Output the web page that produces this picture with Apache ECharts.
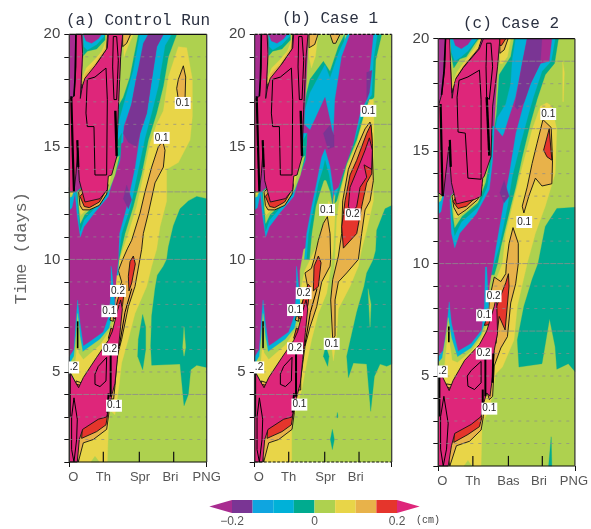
<!DOCTYPE html>
<html><head><meta charset="utf-8">
<style>html,body{margin:0;padding:0;background:#fff}#c{width:591px;height:529px}</style>
<script src="https://cdn.jsdelivr.net/npm/echarts@6/dist/echarts.min.js"></script>
</head><body><div id="c"></div>
<script>
// Colour levels, -0.2 .. 0.2 cm
const levelColors=['#A82C90','#7A3594','#0FA5E0','#00B1D8','#00AB8F','#AED14F','#E8D548','#E8B24A','#E5352C','#DE267A'];
const colorEdges=[-0.255,-0.2,-0.15,-0.1,-0.05,0,0.05,0.1,0.15,0.2,0.255];
const dayTicks=[20,15,10,5];
const bandRows=[19,18,17,16,15,14,13,12,11,10,9,8,7,6,5,4,3,2];
const strongRowsA=[13,10,4], strongRowsB=[16,13,10,4], strongRowsC=[19,16,10,7];
const tickPos=[102,210,313];
const tickPosC=[105,213,316];
const namesA=['O','Th','Spr','Bri','PNG'], namesB=namesA, namesC=['O','Th','Bas','Bri','PNG'];
const labelPosA=[12,102,212,303,412], labelPosC=[12,105,213,306,412];

// Each layer: [level, [distance, day, distance, day, ...]]
const fieldA=[
[4,[412,12.7,382,12.8,357,12.6,332,12.25,312,11.5,297,10.55,292,10,282,9.7,264,9.3,257,8.7,247,7.5,244,6.15,247,5.3,332,5.35,344,3.5,357,4,364,5.1,382,5.3,412,5.2]],
[4,[220,7.55,229,7,229,6,220,5.1,205,5.7,207,6.45]],
[5,[344,7,349,6.1,344,5.7,340,6.1]],
[6,[24,1,114,1,117,2.4,122,3.3,137,3.1,150,4.5,157,5.4,177,6.45,197,7.6,232,8.8,247,9.7,262,10.45,272,11.45,292,12.6,292,14,327,14.3,362,15.3,369,16.35,369,18,352,19.4,327,19.45,297,18.1,282,16.6,262,16,242,15.15,222,13.7,202,12.35,177,11.15,152,10.05,144,9.85,100,6,40,3]],
[5,[65,1,77,1.25,90,1]],
[7,[280,15.25,287,14.85,282,14.1,257,13.4,237,12.05,222,11.15,217,10.45,197,8.8,177,7.9,157,6.45,144,5.7,137,4.4,133,3.8,120,3.8,120,5.5,130,8,157,9,147,9.5,160,10,175,10.5,187,10.85,212,12.05,227,13,247,14.1,267,15]],
[8,[192,10.15,198,9.8,187,8.95,179,8.6,177,9.25,182,9.9]],
[7,[342,18.6,349,18.1,347,17.1,327,17.1,322,17.6,327,18]],
[4,[207,20,322,20,297,19,282,17.7,262,16.5,237,15.3,217,13.8,192,12.35,167,11.15,149,10,145,9.6,125,9.6,135,15,147,16.8,162,17.2,182,18.1]],
[3,[212,20,307,20,287,19.5,267,17.7,247,16.5,227,15.4,207,14,184,12.35,157,11.15,147,10,147,9.3,130,9.3,135,15,152,16.3,167,17.1,192,18.4]],
[0,[0,20,160,20,154,19,147,16.65,142,15,162,15.2,164,15.9,187,16.9,202,18.1,237,20,282,20,262,19.45,242,17.5,232,16.5,212,15.6,197,14.1,172,12.35,150,11.15,147,10,140,9,135,7,100,5,30,4.5,0,4.8]],
[1,[237,20,282,20,262,19.45,242,17.5,232,16.5,212,15.6,202,15,177,15.2,162,15.6,167,15.9,187,16.9,202,18.1,222,19.6]],
[1,[172,13.3,187,12.65,177,12.25,162,12.7]]
];
const fieldAtopRight=[[6,[162,20,192,20,177,19.5,164,19]],[7,[160,20,184,20,172,19.6,160,19.45]]];

const fieldB=[
[4,[411,12.4,391,12.25,366,11.3,363,10.4,356,10,336,9.4,328,8.8,306,7.65,276,5.7,281,4.75,296,5.4,336,5.35,348,3.25,359,4.8,376,5.35,396,5.25,411,5.35]],
[5,[340,8.7,346,7,349,8]],
[4,[213,6.15,223,5.7,219,5.25,206,5.7]],
[4,[233,2.45,239,2,233,1.55,227,2]],
[4,[246,3,248,3.2,250,3,248,2.95]],
[4,[270,20,251,19.45,226,18.35,206,18.8,166,18,156,17.4,146,16.6,150,15,260,15]],
[3,[278,20,251,19.15,226,18.05,211,18.65,166,17.4,151,16.65,150,15,260,15,290,20]],
[4,[356,20,381,20,363,18.85,358,17.2,344,17,326,16.35,306,15.3,276,14.25,261,13.4,246,12.6,240,12.5,260,16]],
[3,[350,20,368,20,356,18.85,351,17.3,336,17,320,16.35,300,15.3,272,14.25,256,13.4,242,12.8,235,13,260,16]],
[0,[0,20,161,20,155,18,148,16,166,15.75,211,17.2,228,16.05,236,15.45,241,17.1,261,19,286,20,356,20,346,18.55,336,17.1,316,16.5,296,15.15,271,14.1,251,13.2,238,13.05,230,12,200,11,146,10.45,135,9.5,135,7,100,5,30,4.5,0,4.8]],
[1,[206,15.6,225,15.95,238,15.5,238,15,220,14.9]],
[1,[336,18.3,352,18.4,344,17.4,336,17.1]],
[3,[211,14.9,226,14.1,236,13.05,232,12.5,236,11,180,10,149,10,156,11.15,171,12.35,186,13.4,201,14.55]],
[4,[211,14.4,222,13.8,232,12.9,234,12.3,236,11,180,10,156,10,162,11.15,178,12.35,192,13.4,205,14]],
[5,[214,13.5,226,13,232,12.5,234,11,180,10,165,10,172,11.15,184,12.35,197,13,208,13.5]],
[6,[26,1,111,1,111,2.6,121,3.2,141,4.2,156,5.4,171,6.45,191,7.6,216,8.5,230,9.8,236,10.5,241,12,222,12.6,206,11.5,186,10.6,170,10.1,150,9.5,100,6,40,3]],
[6,[236,5.5,246,6.6,251,7.8,286,8.8,311,9.7,321,10.45,336,11.3,356,12.6,356,13.8,358,16,356,17.1,344,17.1,331,16.5,306,15.15,276,14.1,258,13,246,11.8,241,10,230,8,228,6.5]],
[7,[218,11.9,226,11.15,228,10,226,9.7,201,9,186,7.9,166,7,151,6.15,138,4.7,138,4.2,124,4.2,126,7.5,160,8.7,151,9.4,170,9.6,178,10,191,10.85,206,11.6]],
[8,[191,10.15,199,9.85,191,8.8,176,8.6,178,9.7]],
[7,[346,16.1,351,15.6,356,13.5,346,12.6,331,12.2,321,11.15,311,10,276,9.4,251,9,241,8.2,241,6.6,234,6.45,228,8.2,234,9.1,251,10.15,261,11.15,264,12.6,281,14,306,14.95,331,15.8]],
[8,[349,16,353,15.15,351,13.8,336,13.4,321,12.35,306,11.15,266,10.5,261,11.45,271,12.6,286,13.75,306,14.4,336,15.6]],
[9,[344,15.4,353,14.85,351,14,328,14.2,336,13.65,316,13.2,306,12.35,291,12.05,281,12.35,286,13.2,311,14.1,331,14.85]],
[6,[163,20,190,20,182,19,170,18.5,163,19]],
[7,[163,20,190,20,180,19.55,163,19.4]],
[7,[226,20,256,20,243,19.6,235,19.6]]
];

// Left-hand structure shared by panels (a) and (b)
const leftAB=[
[3,[0,5.67,14,6,18,6.9,25,8.2,32,7.2,42,6.15,57,6.3,102,6.77,119,7.5,125,8.5,125,9.7,127,9.55,134,8.5,137,7.9,132,6.75,92,5.7,32,4.5,0,4.8]],
[5,[0,5.33,14,5.7,20,6.6,25,7.6,32,6.6,40,5.9,92,6.45,120,6.95,127,7.4,137,7.4,132,6.6,92,5.55,32,4.45,0,4.95]],
[6,[17,5.25,24,6.3,28,5.85,42,5.55,92,6.2,124,6.9,137,7.35,137,6.6,92,5.5,32,4.3,20,4.5,7,4.95]],
[7,[20,4.6,40,4.5,32,4.2,20,4.25]],
[8,[22,4.45,36,4.4,30,4.25,22,4.3]],
[7,[20,1.5,27,1,42,1.85,72,2,112,2.45,119,3.2,119,4,60,3.5,30,2.2]],
[8,[37,2.05,82,2.35,110,2.65,116,3.2,90,3.4,40,2.8]],
[7,[122,7.3,132,7.25,132,7.45,125,7.5]],
[8,[132,7.4,145,7.3,160,8,166,8.8,160,8.9,145,8.2]],
[8,[117,6.5,127,6.45,131,6.9,125,6.95]],
[9,[0,5.05,20,4.5,28,4.3,42,4.75,82,5.65,117,6.4,129,6.8,144,7.7,154,8.2,159,7.8,152,6.75,144,5.55,137,4.5,129,4.05,120,3.5,112,3,87,2.9,40,2.45,30,2,24,1,0,1]],
[3,[17,12.95,24,11.9,33,11,44,11.45,77,12.1,117,12.8,132,13.6,152,14.4,157,15.6,142,15.6,100,14]],
[4,[22,13,28,12,33,11.25,44,11.75,77,12.3,117,13,135,13.7,152,14.5,157,15.6,100,14]],
[5,[25,13,30,12.1,33,11.6,46,12,80,12.45,120,13.1,137,13.75,150,14.6,100,14]],
[6,[27,13,31,12.3,33,11.95,50,12.2,85,12.5,117,13.2,125,13.7,100,14]],
[7,[28,13,32,12.4,40,12.2,60,12.2,90,12.4,112,12.9,116,13.3,100,14]],
[8,[32,12.8,45,12.35,60,12.3,90,12.55,108,13,100,14]],
[3,[0,13.2,0,12.2,8,12.3,18,13]],
[5,[0,13.2,0,12.75,8,12.8,16,13.2]],
[6,[2,13.2,5,12.85,14,13]],
[9,[20,20,37,20,40,19.15,33,17.15,42,17.95,54,18.35,82,18.7,114,19.4,117,20,160,20,154,19,147,16.65,142,14.55,127,13.75,117,13.7,114,13.1,92,12.7,47,12.55,30,13.5,25,14.85,20,13.8,14,13,0,13,0,17.1,14,17.25,20,18.55]],
[7,[42,20,44,19.3,37,17.6,47,18.05,77,18.6,112,19.35,114,20]],
[6,[42,20,44,19.4,38,17.8,47,18.25,77,18.7,107,19.4,112,20]],
[5,[42,20,44,19.5,40,18.1,50,18.5,77,18.9,97,19.25,110,19.75,110,20]],
[4,[42,20,42,19.05,54,19.25,82,19.35,107,19.75,107,20]],
[3,[42,20,44,19.45,54,19.3,82,19.55,104,19.9,104,20]],
[0,[42,20,50,19.7,67,19.6,87,19.8,97,20]]
];

const fieldC=[
[4,[415,12.5,360,12.45,325,11.65,303,10,285,9.3,260,8.1,240,6.6,245,5.4,315,5.55,338,7.55,355,6.3,360,5.3,395,5.55,415,5.2]],
[4,[343,2.3,345,1,335,1]],
[6,[378,19,383,18.5,380,17.2,378,17.2]],
[6,[25,1,130,1,133,2.9,155,3.5,170,4.7,175,5.1,195,5.4,230,6.6,240,8.1,270,10,295,11.35,325,12.55,355,14,360,15.95,345,17,330,17.15,310,17,285,15.95,255,14.3,230,12.85,205,11.35,195,10,170,9.1,150,5,45,3]],
[5,[78,1,90,1.25,102,1]],
[7,[318,16.4,343,16.05,347,14.6,345,13.55,315,13.45,295,13.8,275,13,260,12.25,255,12.55,270,13.4,285,14.45,300,15.35]],
[8,[337,16,345,14.6,330,14.75,320,15.05]],
[7,[227,11.6,243,10.9,243,10,235,9.1,220,8.25,210,6.75,190,6.25,170,5.45,165,4.1,155,3.95,140,4.7,155,8.4,170,9.4,190,9.2,205,9.55,207,10,215,10.9]],
[8,[213,9.55,215,9,203,7.05,185,7.65,175,6.45,165,7.65,185,8.4,205,9.15]],
[4,[230,20,365,20,353,18.9,325,18.4,300,17.3,280,16.25,255,14.75,235,13.4,220,12.55,190,10.75,180,10,170,9.5,150,9.5,160,15,177,16.7,185,18.4,220,19.2]],
[3,[235,20,355,20,343,19,315,18.55,290,17.45,275,16.7,250,15.35,225,13.9,210,12.55,185,10.75,170,10,160,9.5,150,9.5,160,15,180,16.5,205,17.1,220,18,225,19.1]],
[0,[0,20,187,20,180,18.75,170,16.1,195,15.65,200,15.8,215,16.5,235,17.4,255,18.9,270,20,345,20,337,19,310,18.9,280,18,260,17.15,235,15.8,215,14,200,12.85,175,10.75,167,10,155,9,150,7,100,5,30,4.6,0,5]],
[1,[270,20,315,20,310,18.9,280,18,260,17.15,240,16.85,232,17,245,18,255,18.9]],
[1,[200,13.7,215,13,200,12.7,187,13.15]],
[3,[0,5.85,15,6.15,25,7.05,33,8.3,40,7.35,60,6.1,100,6.45,132,7.05,140,8.1,143,9.85,147,9.85,153,8.1,147,7,125,6.2,45,4.7,0,5]],
[5,[0,5.6,12,5.8,22,6.7,30,7.6,40,6.7,58,5.85,100,6.25,130,6.85,143,7.4,155,7.45,147,6.8,125,6.05,45,4.65,0,5.1]],
[6,[18,5.3,25,6.3,30,7.1,35,6.4,42,5.7,58,5.6,100,6.1,130,6.7,150,7.35,150,6.8,125,6,45,4.45,33,4.35,25,4.5,10,4.95]],
[7,[25,4.65,45,4.6,38,4.25,25,4.3]],
[8,[27,4.5,40,4.45,35,4.27,27,4.32]],
[7,[35,1,55,1.9,95,2.1,130,2.6,137,3.2,135,4,60,3.5,33,2.2,28,1.55]],
[8,[47,2.05,90,2.4,125,2.75,133,3.2,105,3.4,50,2.85]],
[8,[140,7.25,160,7.3,165,7.6,145,7.5]],
[9,[0,5.35,25,4.6,33,4.35,45,4.8,80,5.7,125,6.4,147,7,170,8.1,177,8.6,180,6.9,170,6.15,165,5,157,4.1,147,4.25,135,3.65,130,3.2,100,2.85,50,2.45,40,1.9,30,1,0,1]],
[3,[35,12.85,40,11.35,50,10.7,65,11.35,115,12.2,155,13.3,165,14.6,170,16.1,155,16.1,100,14]],
[4,[37,13,43,11.9,50,11.25,70,11.85,120,12.5,148,13.4,160,14.5,165,15.7,100,14]],
[5,[39,13,45,12.1,50,11.6,72,12.1,120,12.7,143,13.6,155,14.5,100,14]],
[6,[41,13,47,12.3,50,11.95,75,12.25,122,12.8,138,13.6,100,14]],
[7,[42,13,47,12.5,60,12.15,85,12.4,120,12.85,133,13.5,100,14]],
[8,[45,12.75,60,12.45,85,12.55,115,12.95,100,14]],
[3,[0,13.2,0,12.2,8,12.3,18,13.1]],
[5,[0,13.2,0,12.7,8,12.8,15,13.2]],
[6,[5,13.2,8,12.9,14,13.1]],
[9,[22,20,35,20,37,18.9,42,17.35,50,18.15,75,18.7,125,19.55,137,20,187,20,180,18.75,165,17,160,14.75,140,13.9,135,13.8,130,13,110,12.85,55,12.65,40,13.6,32,15.2,25,14.3,15,13,0,13.15,0,17,10,17.5,20,18.75]],
[7,[37,20,39,19,42,17.6,52,18.2,77,18.75,122,19.55,132,20]],
[6,[37,20,39,19.1,43,17.8,52,18.3,77,18.85,120,19.6,129,20]],
[5,[37,20,39,19.2,45,18.1,55,18.5,77,18.95,110,19.6,125,20]],
[4,[37,20,39,19.3,47,18.7,65,19.1,85,19.2,110,19.75,122,20]],
[3,[37,20,40,19.4,50,19,70,19.2,90,19.45,108,19.8,118,20]],
[0,[45,20,52,19.7,70,19.55,90,19.75,102,20]],
[6,[187,20,220,20,210,19.2,195,18.9,187,18.9]],
[7,[187,20,212,20,200,19.5,187,19.35]],
[8,[187,20,205,20,192,19.7,187,19.7]]
];

// Contours: [width, [distance, day, ...]]
const linesAB=[
[1,[50,16.5,54,18,77,18.1,110,18.5,114,17.1,112,13.75,77,13.75,74,15.9,54,15.9,50,16.5]],
[1,[132,19.9,142,19.9,147,18.85,142,17.1,134,17.1,130,18.55,132,19.9]],
[1,[14,3.85,24,2.9,22,2,14,1,7,1.55,7,3,14,3.85]],
[1,[77,4.9,87,5.25,112,5.65,110,4.6,92,4.35,77,4.45,77,4.9]],
[1,[150,6.15,167,7.65,187,8.7]],
[2.2,[1,5,1,3]],[2.2,[6,17.25,10,15,14,13]],[2.2,[24,15.3,27,14.1]],[2.4,[138,16.6,142,14.6]],
[1.6,[25,7.25,25,6.05]],[2,[124,5.85,124,3.9]],[2,[118,4.05,114,3.2]],[1.6,[20,20,17,18,14,17.25]]
];
const linesC=[
[1,[57,17.4,63,18.15,90,18.3,125,18.6,130,17.3,130,13.75,90,13.8,82,15.8,60,15.85,57,17.4]],
[1,[147,19.8,160,19.8,165,18.75,155,17.3,147,17.4,145,18.75,147,19.8]],
[1,[17,4.1,30,2.9,25,1.75,15,1,7,1.75,7,3.2,17,4.1]],
[1,[88,5,100,5.25,130,5.65,130,4.7,110,4.4,90,4.55,88,5]],
[2.2,[3,5.3,3,3.2]],[1.6,[32,7.2,32,6.5]],[2,[143,6.15,143,4.1]],[2,[135,4.4,135,3.65]],[2,[167,6,165,4.7]],
[2.2,[7,17.1,10,15,13,13]],[2.2,[35,15.5,38,14.3]],[2.4,[147,17.4,155,14.8]],[1.6,[22,20,17,18.5,10,17.5]]
];

// Contour labels: [distance, day, text]
const labelsA=[[340,16.95,'0.1'],[277,15.4,'0.1'],[146,8.6,'0.2'],[120,7.7,'0.1'],[122,6,'0.2'],[134,3.5,'0.1'],[14,5.2,'.2']];
const labelsB=[[341,16.6,'0.1'],[217,12.2,'0.1'],[294,12,'0.2'],[147,8.5,'0.2'],[121,7.75,'0.1'],[121,6.05,'0.2'],[231,6.25,'0.1'],[134,3.55,'0.1'],[13,5.2,'.2']];
const labelsC=[[334,16.65,'0.1'],[261,11.85,'0.1'],[168,8.55,'0.2'],[139,7.7,'0.1'],[138,6,'0.2'],[155,3.55,'0.1'],[13,5.2,'.2']];

const titleFont='"Liberation Mono", monospace', sans='"Liberation Sans", sans-serif';

function lay(color,pts,stroke){return {k:'p',color,pts,stroke};}
function buildItems(xMax,field,shared,lines,labels,strong,ticks,dashedFrame){
  const items=[lay(levelColors[5],[0,1,xMax,1,xMax,20,0,20],false)];
  field.concat(shared).forEach(([l,p])=>items.push(lay(levelColors[l],p,l>=7)));
  lines.forEach(([w,p])=>items.push({k:'l',w,pts:p,color:'#000'}));
  bandRows.forEach(d=>{const s=strong.includes(d);
    items.push({k:'l',w:1,pts:[0,d,xMax,d],color:s?'rgba(140,140,140,0.8)':'rgba(140,140,140,0.7)',dash:s?[6,1]:[3,5]});});
  ticks.forEach(t=>items.push({k:'l',w:1.2,pts:[t,1,t,1.45],color:'#111'}));
  const fc='#333';
  items.push({k:'l',w:1.2,pts:[0,20,xMax,20],color:'#111',dash:dashedFrame?[3,1.5]:null});
  items.push({k:'l',w:1.2,pts:[0,1,xMax,1],color:'#111',dash:dashedFrame?[3,1.5]:null});
  items.push({k:'l',w:1.2,pts:[0,1,0,20],color:fc});
  items.push({k:'l',w:1.2,pts:[xMax,1,xMax,20],color:fc});
  labels.forEach(([x,t,s])=>items.push({k:'t',x,t,s}));
  return items;
}
function renderer(items){return function(params,api){
  const it=items[params.dataIndex];
  if(it.k==='t'){const c=api.coord([it.x,it.t]);
    return {type:'text',style:{text:it.s,x:c[0],y:c[1],align:'center',verticalAlign:'middle',fill:'#222',font:'10px '+sans,backgroundColor:'#fff',padding:[1,1]}};}
  const pts=[];for(let i=0;i<it.pts.length;i+=2)pts.push(api.coord([it.pts[i],it.pts[i+1]]));
  if(it.k==='p')return {type:'polygon',shape:{points:pts},style:{fill:it.color,stroke:it.stroke?'#111':it.color,lineWidth:it.stroke?0.9:0.3}};
  return {type:'polyline',shape:{points:pts},style:{fill:null,stroke:it.color,lineWidth:it.w,lineDash:it.dash||null}};
};}

const panels=[
 {left:69.3,top:34.3,w:137.4,h:427.7,xMax:412,items:buildItems(412,fieldA.concat(fieldAtopRight),leftAB,linesAB,labelsA,strongRowsA,tickPos,false),names:namesA,lp:labelPosA},
 {left:254.7,top:34.3,w:137,h:427.7,xMax:411,items:buildItems(411,fieldB,leftAB,linesAB,labelsB,strongRowsB,tickPos,true),names:namesB,lp:labelPosA},
 {left:438.3,top:38.7,w:138.4,h:427.3,xMax:415,items:buildItems(415,fieldC,[],linesC,labelsC,strongRowsC,tickPosC,false),names:namesC,lp:labelPosC}
];
const grid=[],xAxis=[],yAxis=[],series=[];
panels.forEach((p,i)=>{
  grid.push({left:p.left,top:p.top,width:p.w,height:p.h,show:false});
  xAxis.push({type:'value',gridIndex:i,min:0,max:p.xMax,splitLine:{show:false},
    axisLine:{show:false},
    axisTick:{show:true,length:5,customValues:[0,p.xMax],lineStyle:{color:'#111'}},
    axisLabel:{show:true,customValues:p.lp,margin:9,color:'#555',fontFamily:sans,fontSize:13,
      formatter:v=>p.names[p.lp.indexOf(v)],hideOverlap:false,showMinLabel:true,showMaxLabel:true}});
  yAxis.push({type:'value',gridIndex:i,min:1,max:20,interval:1,splitLine:{show:false},
    axisLine:{show:false},axisTick:{show:true,length:5,lineStyle:{color:'#111'}},
    axisLabel:{margin:9,color:'#444',fontFamily:sans,fontSize:15,customValues:dayTicks},
    name:i===0?'Time (days)':'',nameLocation:'middle',nameRotate:90,nameGap:39,
    nameTextStyle:{color:'#666',fontFamily:titleFont,fontSize:17}});
  series.push({type:'custom',xAxisIndex:i,yAxisIndex:i,clip:false,silent:true,animation:false,
    renderItem:renderer(p.items),data:p.items.map(()=>[0,1])});
});
// Colour bar
grid.push({left:232,top:500,width:165,height:13,show:false});
xAxis.push({type:'value',gridIndex:3,min:-0.2,max:0.2,interval:0.2,splitLine:{show:false},axisLine:{show:false},axisTick:{show:false},
  axisLabel:{margin:3,color:'#555',fontFamily:sans,fontSize:12,formatter:v=>v===0?'0':(v<0?'\u22120.2':'0.2')}});
yAxis.push({type:'value',gridIndex:3,min:0,max:1,show:false});
series.push({type:'custom',xAxisIndex:3,yAxisIndex:3,clip:false,silent:true,animation:false,
  data:levelColors.map((c,i)=>[colorEdges[i],0,colorEdges[i+1],1]),
  renderItem(params,api){
    const i=params.dataIndex,a=api.coord([api.value(0),0]),b=api.coord([api.value(2),1]);
    const m=(a[1]+b[1])/2,col=levelColors[i];
    if(i===0)return {type:'polygon',shape:{points:[[a[0],m],[b[0],a[1]],[b[0],b[1]]]},style:{fill:col}};
    if(i===levelColors.length-1)return {type:'polygon',shape:{points:[[a[0],a[1]],[a[0],b[1]],[b[0],m]]},style:{fill:col}};
    return {type:'rect',shape:{x:a[0],y:b[1],width:b[0]-a[0],height:a[1]-b[1]},style:{fill:col}};
  }});

const chart=echarts.init(document.getElementById('c'),null,{renderer:'canvas'});
chart.setOption({animation:false,backgroundColor:'#fff',grid,xAxis,yAxis,series,
  title:[
   {text:'(a) Control Run',left:61,top:8,textStyle:{fontFamily:titleFont,fontSize:16,fontWeight:'normal',color:'#2a3040'}},
   {text:'(b) Case 1',left:277,top:6,textStyle:{fontFamily:titleFont,fontSize:16,fontWeight:'normal',color:'#2a3040'}},
   {text:'(c) Case 2',left:458,top:11,textStyle:{fontFamily:titleFont,fontSize:16,fontWeight:'normal',color:'#2a3040'}},
   {text:'(cm)',left:411,top:510,textStyle:{fontFamily:titleFont,fontSize:10,fontWeight:'normal',color:'#444'}}
  ]});
</script></body></html>
